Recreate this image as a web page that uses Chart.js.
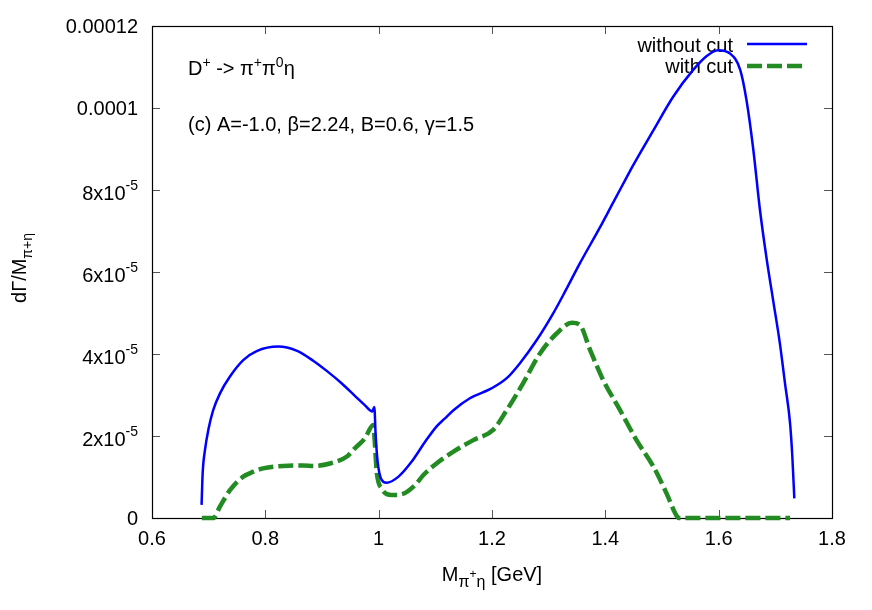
<!DOCTYPE html>
<html>
<head>
<meta charset="utf-8">
<script src="https://cdn.jsdelivr.net/npm/chart.js@4/dist/chart.umd.min.js"></script>
<style>
  html, body { margin: 0; padding: 0; background: #ffffff; }
  #wrap { width: 872px; height: 610px; }
</style>
</head>
<body>
<div id="wrap"><canvas id="c" width="872" height="610"></canvas></div>
<script>
// ---- data ----
const blueX = [0.6875, 0.6894, 0.6935, 0.6994, 0.708, 0.720, 0.7376, 0.761, 0.7847, 0.8229, 0.855, 0.885, 0.910, 0.935, 0.958, 0.975, 0.9888, 0.9923, 0.9947, 0.9982, 1.0053, 1.014, 1.035, 1.058, 1.082, 1.102, 1.117, 1.132, 1.161, 1.199, 1.226, 1.249, 1.279, 1.308, 1.330, 1.355, 1.391, 1.414, 1.435, 1.449, 1.485, 1.520, 1.555, 1.579, 1.599, 1.620, 1.638, 1.649, 1.661, 1.673, 1.685, 1.696, 1.708, 1.717, 1.726, 1.730, 1.7335];
const blueY = [0.32e-5, 1.09e-5, 1.66e-5, 2.15e-5, 2.63e-5, 3.04e-5, 3.45e-5, 3.85e-5, 4.07e-5, 4.18e-5, 4.08e-5, 3.83e-5, 3.57e-5, 3.28e-5, 2.98e-5, 2.76e-5, 2.60e-5, 2.71e-5, 2.02e-5, 1.37e-5, 0.93e-5, 0.86e-5, 1.01e-5, 1.37e-5, 1.86e-5, 2.23e-5, 2.43e-5, 2.63e-5, 2.92e-5, 3.16e-5, 3.41e-5, 3.77e-5, 4.34e-5, 4.99e-5, 5.55e-5, 6.21e-5, 7.10e-5, 7.70e-5, 8.24e-5, 8.60e-5, 9.46e-5, 10.28e-5, 10.93e-5, 11.27e-5, 11.41e-5, 11.33e-5, 10.93e-5, 10.20e-5, 9.00e-5, 7.50e-5, 6.29e-5, 5.32e-5, 4.26e-5, 3.29e-5, 2.31e-5, 1.50e-5, 0.48e-5];
const greenX = [0.688, 0.708, 0.720, 0.7376, 0.761, 0.779, 0.796, 0.832, 0.867, 0.885, 0.914, 0.944, 0.958, 0.9755, 0.9906, 0.9935, 0.9965, 1.0053, 1.023, 1.0406, 1.064, 1.079, 1.102, 1.132, 1.167, 1.202, 1.226, 1.255, 1.285, 1.314, 1.341, 1.355, 1.373, 1.396, 1.426, 1.455, 1.485, 1.508, 1.526, 1.530, 1.726];
const greenY = [0, 0, 0.28e-5, 0.68e-5, 1.01e-5, 1.13e-5, 1.21e-5, 1.27e-5, 1.28e-5, 1.27e-5, 1.33e-5, 1.50e-5, 1.70e-5, 1.94e-5, 2.27e-5, 1.78e-5, 1.13e-5, 0.72e-5, 0.56e-5, 0.58e-5, 0.80e-5, 1.05e-5, 1.33e-5, 1.62e-5, 1.90e-5, 2.15e-5, 2.63e-5, 3.29e-5, 4.02e-5, 4.50e-5, 4.76e-5, 4.71e-5, 4.10e-5, 3.37e-5, 2.63e-5, 1.90e-5, 1.25e-5, 0.60e-5, 0.05e-5, 0, 0];
const seriesNames = ['without cut', 'with cut'];
const xTicks = [0.6, 0.8, 1.0, 1.2, 1.4, 1.6, 1.8];
const xTickLabels = ['0.6', '0.8', '1', '1.2', '1.4', '1.6', '1.8'];
const yTicks = [0, 2e-5, 4e-5, 6e-5, 8e-5, 1e-4, 1.2e-4];
const yTickBase = ['0', '2x10', '4x10', '6x10', '8x10', '0.0001', '0.00012'];
const yTickExp = ['', '-5', '-5', '-5', '-5', '', ''];

const FONT = '"Liberation Sans", Arial, Helvetica, sans-serif';
const BLUE = '#0000ff';
const GREEN = '#228b22';

function toPoints(xs, ys) { return xs.map((x, i) => ({ x: x, y: ys[i] })); }

function segWidth(ctx, segs) {
  let w = 0;
  for (const s of segs) { ctx.font = s.s + 'px ' + FONT; w += ctx.measureText(s.t).width; }
  return w;
}
function drawRich(ctx, segs, x, y, align) {
  const w = segWidth(ctx, segs);
  let cx = align === 'right' ? x - w : (align === 'center' ? x - w / 2 : x);
  ctx.textAlign = 'left';
  ctx.textBaseline = 'alphabetic';
  for (const s of segs) {
    ctx.font = s.s + 'px ' + FONT;
    ctx.fillText(s.t, cx, y + (s.dy || 0));
    cx += ctx.measureText(s.t).width;
  }
}

const framePlugin = {
  id: 'frame',
  beforeDraw(chart) {
    const ctx = chart.ctx;
    ctx.save();
    ctx.fillStyle = '#ffffff';
    ctx.fillRect(0, 0, chart.width, chart.height);
    ctx.restore();
  },
  beforeDatasetsDraw(chart) {
    const ctx = chart.ctx;
    const a = chart.chartArea;
    const xs = chart.scales.x, ys = chart.scales.y;
    ctx.save();
    // ticks (all four sides, inward)
    ctx.strokeStyle = '#555555';
    ctx.lineWidth = 1;
    const tl = 8;
    ctx.beginPath();
    xTicks.forEach(v => {
      const px = Math.round(xs.getPixelForValue(v)) + 0.5;
      ctx.moveTo(px, a.bottom); ctx.lineTo(px, a.bottom - tl);
      ctx.moveTo(px, a.top); ctx.lineTo(px, a.top + tl);
    });
    yTicks.forEach(v => {
      const py = Math.round(ys.getPixelForValue(v)) + 0.5;
      ctx.moveTo(a.left, py); ctx.lineTo(a.left + tl, py);
      ctx.moveTo(a.right, py); ctx.lineTo(a.right - tl, py);
    });
    ctx.stroke();
    // border
    ctx.strokeStyle = '#000000';
    ctx.lineWidth = 1.2;
    ctx.strokeRect(Math.round(a.left) + 0.5, Math.round(a.top) + 0.5, Math.round(a.right - a.left), Math.round(a.bottom - a.top));

    ctx.fillStyle = '#000000';
    // x tick labels
    xTicks.forEach((v, i) => {
      drawRich(ctx, [{ t: xTickLabels[i], s: 20 }], xs.getPixelForValue(v), a.bottom + 27, 'center');
    });
    // y tick labels
    yTicks.forEach((v, i) => {
      const py = ys.getPixelForValue(v);
      if (yTickExp[i]) {
        drawRich(ctx, [{ t: yTickBase[i], s: 20 }, { t: yTickExp[i], s: 14, dy: -10 }], a.left - 14, py + 10, 'right');
      } else {
        drawRich(ctx, [{ t: yTickBase[i], s: 20 }], a.left - 14, py + 7, 'right');
      }
    });
    // x axis title
    drawRich(ctx, [
      { t: 'M', s: 20 }, { t: '\u03c0', s: 16, dy: 6 }, { t: '+', s: 12, dy: -3 },
      { t: '\u03b7', s: 16, dy: 6 }, { t: ' [GeV]', s: 20 }
    ], (a.left + a.right) / 2, 581, 'center');
    // y axis title (rotated)
    ctx.save();
    ctx.translate(26, (a.top + a.bottom) / 2 - 4);
    ctx.rotate(-Math.PI / 2);
    drawRich(ctx, [{ t: 'd\u0393/M', s: 20 }, { t: '\u03c0+\u03b7', s: 14, dy: 6 }], 0, 0, 'center');
    ctx.restore();
    // annotations
    drawRich(ctx, [
      { t: 'D', s: 20 }, { t: '+', s: 14, dy: -8 }, { t: ' -> ', s: 20 },
      { t: '\u03c0', s: 20 }, { t: '+', s: 14, dy: -8 }, { t: '\u03c0', s: 20 }, { t: '0', s: 14, dy: -8 },
      { t: '\u03b7', s: 20 }
    ], 188, 75, 'left');
    drawRich(ctx, [{ t: '(c) A=-1.0, \u03b2=2.24, B=0.6, \u03b3=1.5', s: 20 }], 188, 131, 'left');
    // key
    drawRich(ctx, [{ t: seriesNames[0], s: 20 }], 733, 52, 'right');
    drawRich(ctx, [{ t: seriesNames[1], s: 20 }], 733, 73, 'right');
    ctx.lineCap = 'butt';
    ctx.strokeStyle = BLUE; ctx.lineWidth = 2.5;
    ctx.beginPath(); ctx.moveTo(747, 44); ctx.lineTo(807, 44); ctx.stroke();
    ctx.strokeStyle = GREEN; ctx.lineWidth = 4.5; ctx.setLineDash([15, 5]);
    ctx.beginPath(); ctx.moveTo(747, 66); ctx.lineTo(807, 66); ctx.stroke();
    ctx.restore();
  }
};

new Chart(document.getElementById('c'), {
  type: 'scatter',
  data: {
    datasets: [
      {
        label: seriesNames[0],
        data: toPoints(blueX, blueY),
        showLine: true,
        borderColor: BLUE,
        borderWidth: 2.5,
        pointRadius: 0,
        cubicInterpolationMode: 'monotone',
        clip: 10
      },
      {
        label: seriesNames[1],
        data: toPoints(greenX, greenY),
        showLine: true,
        borderColor: GREEN,
        borderWidth: 4.5,
        borderDash: [15, 5],
        borderCapStyle: 'butt',
        pointRadius: 0,
        cubicInterpolationMode: 'monotone',
        clip: 10
      }
    ]
  },
  options: {
    responsive: false,
    animation: false,
    devicePixelRatio: 1,
    layout: { padding: { left: 152, right: 40, top: 26, bottom: 92 } },
    plugins: { legend: { display: false }, tooltip: { enabled: false }, title: { display: false } },
    scales: {
      x: { type: 'linear', min: 0.6, max: 1.8, display: false },
      y: { type: 'linear', min: 0, max: 0.00012, display: false }
    }
  },
  plugins: [framePlugin]
});
</script>
</body>
</html>
